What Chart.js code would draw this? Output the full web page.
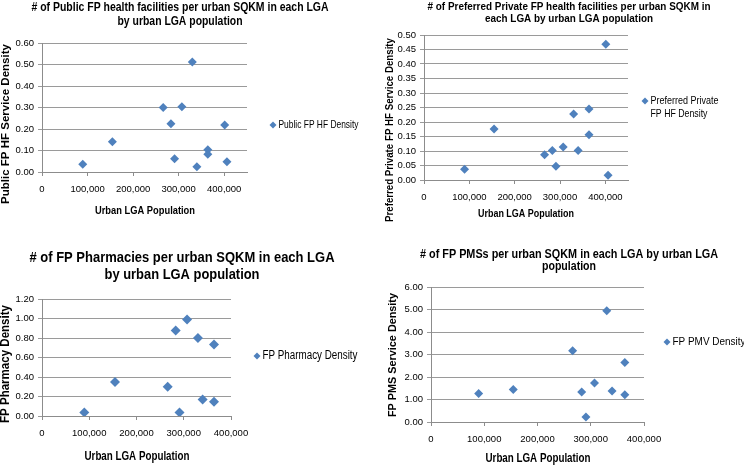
<!DOCTYPE html>
<html>
<head>
<meta charset="utf-8">
<script src="https://cdn.jsdelivr.net/npm/chart.js@4.4.0/dist/chart.umd.min.js"></script>
<style>
  html, body { margin: 0; padding: 0; background: #fff; }
  body { width: 744px; height: 465px; position: relative; overflow: hidden; }
  .panel { position: absolute; }
</style>
</head>
<body>
<div class="panel" style="left:0;top:0;width:372px;height:230px"><canvas id="publicChart"></canvas></div>
<div class="panel" style="left:372px;top:0;width:372px;height:230px"><canvas id="privateChart"></canvas></div>
<div class="panel" style="left:0;top:230px;width:372px;height:235px"><canvas id="pharmacyChart"></canvas></div>
<div class="panel" style="left:372px;top:230px;width:372px;height:235px"><canvas id="pmvChart"></canvas></div>
<script>
// Urban LGA population (x), shared by the four charts
const population = [89500, 154500, 266000, 283000, 291000, 307000, 330000, 340000, 364000, 364000, 401000, 406000];

// densities per urban SQKM (y)
const publicHF = [0.036, 0.141, 0.300, 0.225, 0.062, 0.304, 0.512, 0.025, 0.104, 0.082, 0.219, 0.048];
const privateHF = [0.037, 0.176, 0.087, 0.102, 0.047, 0.114, 0.228, 0.102, 0.245, 0.156, 0.468, 0.016];
const pharmacy = [0.037, 0.350, 0.300, 0.877, 0.037, 0.990, 0.800, 0.170, 0.734, 0.147];
const pmv = [1.27, 1.45, 3.17, 1.33, 0.22, 1.73, 4.95, 1.38, 2.64, 1.21];

// x tick labels (the top charts run to 450,000 without a label there)
const xTicks = [0, 100000, 200000, 300000, 400000];

const FONT = "'Liberation Sans', Arial, sans-serif";
const BLUE = '#4f81bd';
Chart.defaults.font.family = FONT;
Chart.defaults.color = '#000';

// draws text squeezed horizontally to a given width (the source uses a narrow face)
function fitText(ctx, text, x, y, w) {
    const m = ctx.measureText(text).width;
    const sx = w && m > w ? w / m : 1;
    ctx.save();
    ctx.translate(x, y);
    ctx.scale(sx, 1);
    ctx.fillText(text, 0, 0);
    ctx.restore();
}

// titres, titres d'axes et légende dessinés à des positions fixes
const textLayer = {
    id: 'textLayer',
    afterDraw(chart, args, opts) {
        const ctx = chart.ctx;
        (opts.items || []).forEach(it => {
            ctx.save();
            ctx.fillStyle = '#000';
            ctx.font = (it.bold ? 'bold ' : '') + it.size + 'px ' + FONT;
            ctx.textAlign = 'center';
            ctx.textBaseline = 'middle';
            ctx.translate(it.x, it.y);
            if (it.rotate) ctx.rotate(-Math.PI / 2);
            fitText(ctx, it.text, 0, 0, it.w);
            ctx.restore();
        });
        const lg = opts.legend;
        if (lg) {
            ctx.save();
            ctx.fillStyle = BLUE;
            ctx.beginPath();
            ctx.moveTo(lg.x, lg.y - lg.r);
            ctx.lineTo(lg.x + lg.r, lg.y);
            ctx.lineTo(lg.x, lg.y + lg.r);
            ctx.lineTo(lg.x - lg.r, lg.y);
            ctx.closePath();
            ctx.fill();
            ctx.fillStyle = '#000';
            ctx.font = lg.size + 'px ' + FONT;
            ctx.textAlign = 'left';
            ctx.textBaseline = 'middle';
            lg.lines.forEach((line, i) => {
                fitText(ctx, line, lg.x + lg.r + 2, lg.y + i * lg.lineGap, lg.w[i]);
            });
            ctx.restore();
        }
    }
};

function makeChart(id, cfg) {
    const points = cfg.values.map((v, i) => ({ x: population[i], y: v }));
    return new Chart(document.getElementById(id), {
        type: 'scatter',
        data: {
            datasets: [{
                label: cfg.legend.lines.join(' '),
                data: points,
                pointStyle: 'rectRot',
                pointRadius: cfg.radius,
                pointHoverRadius: cfg.radius,
                backgroundColor: BLUE,
                borderColor: BLUE,
                borderWidth: 0
            }]
        },
        plugins: [textLayer],
        options: {
            responsive: true,
            maintainAspectRatio: false,
            animation: false,
            layout: { padding: cfg.padding },
            plugins: {
                legend: { display: false },
                title: { display: false },
                tooltip: { enabled: false },
                textLayer: { items: cfg.texts, legend: cfg.legend }
            },
            scales: {
                x: {
                    type: 'linear',
                    min: 0,
                    max: cfg.xMax,
                    afterBuildTicks: scale => {
                        scale.ticks = xTicks.filter(v => v <= cfg.xMax).map(v => ({ value: v }));
                    },
                    afterFit: scale => { scale.height = 26; },
                    ticks: {
                        autoSkip: false,
                        padding: 8,
                        maxRotation: 0,
                        font: { size: cfg.tickSize },
                        callback: v => v.toLocaleString('en-US')
                    },
                    grid: { drawOnChartArea: false, tickLength: 4, color: '#8c8c8c' },
                    border: { color: '#8c8c8c' }
                },
                y: {
                    min: 0,
                    max: cfg.yMax,
                    afterFit: scale => { scale.width = 34; },
                    ticks: {
                        stepSize: cfg.yStep,
                        padding: 4,
                        font: { size: cfg.tickSize },
                        callback: v => v.toFixed(2)
                    },
                    grid: { tickLength: 4, color: '#9a9a9a' },
                    border: { color: '#8c8c8c' }
                }
            }
        }
    });
}

makeChart('publicChart', {
    values: publicHF, xMax: 450000, yMax: 0.6, yStep: 0.1, radius: 4.5, tickSize: 9.5,
    padding: { left: 8, top: 43, right: 125, bottom: 32 },
    texts: [
        { text: '# of Public FP health facilities per urban SQKM in each LGA', x: 180, y: 8, size: 12.5, bold: true, w: 297 },
        { text: 'by urban LGA population', x: 180, y: 22, size: 12.5, bold: true, w: 125 },
        { text: 'Urban LGA Population', x: 145, y: 211, size: 11.5, bold: true, w: 100 },
        { text: 'Public FP HF Service Density', x: 6, y: 124, size: 11.5, bold: true, rotate: true, w: 162 }
    ],
    legend: { x: 273, y: 125, r: 3.5, size: 10.5, lines: ['Public FP HF Density'], w: [80], lineGap: 13 }
});

makeChart('privateChart', {
    values: privateHF, xMax: 450000, yMax: 0.5, yStep: 0.05, radius: 4.5, tickSize: 9.5,
    padding: { left: 18, top: 35, right: 116, bottom: 24 },
    texts: [
        { text: '# of Preferred Private FP health facilities per urban SQKM in', x: 197, y: 7, size: 11, bold: true, w: 283 },
        { text: 'each LGA by urban LGA population', x: 197, y: 19, size: 11, bold: true, w: 168 },
        { text: 'Urban LGA Population', x: 154, y: 214, size: 11, bold: true, w: 96 },
        { text: 'Preferred Private FP HF Service Density', x: 18, y: 130, size: 10.5, bold: true, rotate: true, w: 184 }
    ],
    legend: { x: 273, y: 101, r: 3.5, size: 11, lines: ['Preferred Private', 'FP HF Density'], w: [68, 57], lineGap: 13 }
});

makeChart('pharmacyChart', {
    values: pharmacy, xMax: 400000, yMax: 1.2, yStep: 0.2, radius: 5, tickSize: 9.5,
    padding: { left: 8, top: 69, right: 141, bottom: 23 },
    texts: [
        { text: '# of FP Pharmacies per urban SQKM in each LGA', x: 182, y: 28, size: 15, bold: true, w: 305 },
        { text: 'by urban LGA population', x: 182, y: 45, size: 15, bold: true, w: 155 },
        { text: 'Urban LGA Population', x: 137, y: 227, size: 12, bold: true, w: 105 },
        { text: 'FP Pharmacy Density', x: 6, y: 134, size: 12, bold: true, rotate: true, w: 118 }
    ],
    legend: { x: 257, y: 126, r: 3.5, size: 12, lines: ['FP Pharmacy Density'], w: [95], lineGap: 14 }
});

makeChart('pmvChart', {
    values: pmv, xMax: 400000, yMax: 6, yStep: 1, radius: 4.5, tickSize: 9.5,
    padding: { left: 25, top: 57, right: 100, bottom: 17 },
    texts: [
        { text: '# of FP PMSs per urban SQKM in each LGA by urban LGA', x: 197, y: 25, size: 12, bold: true, w: 298 },
        { text: 'population', x: 197, y: 37, size: 12, bold: true, w: 54 },
        { text: 'Urban LGA Population', x: 166, y: 229, size: 12, bold: true, w: 105 },
        { text: 'FP PMS Service Density', x: 21, y: 125, size: 11.5, bold: true, rotate: true, w: 124 }
    ],
    legend: { x: 295, y: 112, r: 3.5, size: 11.5, lines: ['FP PMV Density'], w: [73], lineGap: 13 }
});
</script>
</body>
</html>
